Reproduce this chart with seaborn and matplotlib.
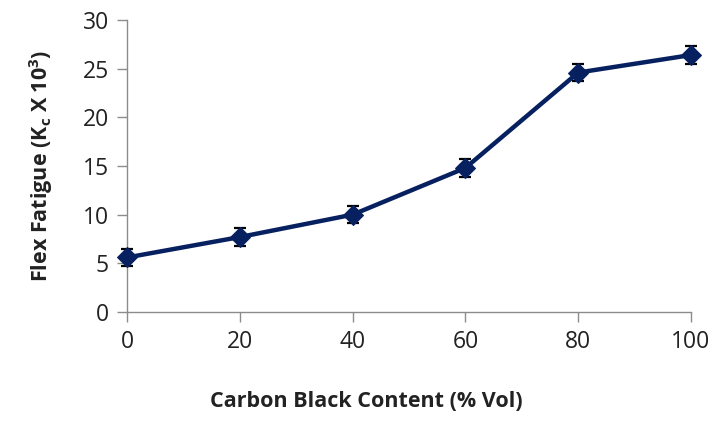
import matplotlib
matplotlib.use("Agg")
import matplotlib.pyplot as plt
import seaborn as sns
import pandas as pd

carbon = [0, 20, 40, 60, 80, 100]
fatigue = [5.6, 7.7, 10.0, 14.8, 24.6, 26.4]
err = [0.9, 0.9, 0.9, 0.9, 0.9, 0.9]

sns.set_style("white")
plt.rcParams['font.family'] = ['Open Sans', 'DejaVu Sans']

df = pd.DataFrame({"x": carbon, "y": fatigue})
fig = plt.figure(figsize=(7.15, 4.21), dpi=100)
ax = fig.add_axes([0.1776, 0.2589, 0.9664 - 0.1776, 0.9525 - 0.2589])

color = "#062060"
ax.errorbar(carbon, fatigue, yerr=err, fmt="none", ecolor="black", elinewidth=1.6, capsize=4.5, capthick=1.6, zorder=3)
sns.lineplot(data=df, x="x", y="y", ax=ax, color=color, linewidth=3.2, marker="D", markersize=10,
             markeredgecolor=color, zorder=4)

ax.set_xlim(0, 100)
ax.set_ylim(0, 30)
ax.set_xticks(carbon)
ax.set_yticks([0, 5, 10, 15, 20, 25, 30])
for s in ["top", "right"]:
    ax.spines[s].set_visible(False)
for s in ["left", "bottom"]:
    ax.spines[s].set_color("#8c8c8c")
    ax.spines[s].set_linewidth(1)
ax.tick_params(axis="both", direction="out", length=7, width=1, color="#8c8c8c",
               labelsize=16.5, labelcolor="#222222", pad=6, left=True, bottom=True)
ax.set_xlabel("Carbon Black Content (% Vol)", fontsize=15.5, fontweight="bold", labelpad=28, color="#222222")
ax.xaxis.set_label_coords(0.424, -0.27)
ax.set_ylabel(r"Flex Fatigue (K$_\mathregular{c}$ X 10$^\mathregular{3}$)", fontsize=15.5, fontweight="bold", labelpad=20, color="#222222")
ax.margins(0)
for sp in ax.spines.values():
    sp.set_clip_on(False)
for l in ax.lines:
    l.set_clip_on(False)
for c in ax.collections:
    c.set_clip_on(False)

fig.savefig("out.png", dpi=100)
